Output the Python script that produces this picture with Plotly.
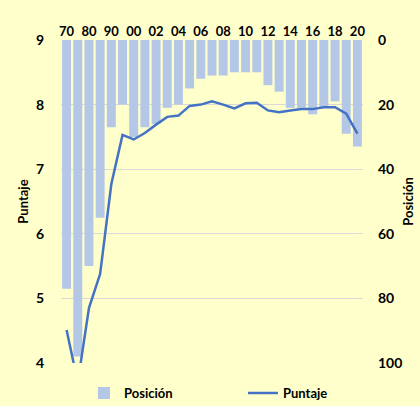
import plotly.graph_objects as go

years = ["70", "75", "80", "85", "90", "95", "00", "01", "02", "03", "04", "05", "06",
         "07", "08", "09", "10", "11", "12", "13", "14", "15", "16", "17", "18", "19", "20"]
posicion = [77, 98, 70, 55, 27, 20, 30, 27, 26, 21, 20, 15, 12,
            11, 11, 10, 10, 10, 14, 16, 21, 21, 23, 21, 19, 29, 33]
puntaje = [4.51, 3.7, 4.85, 5.38, 6.77, 7.53, 7.46, 7.56, 7.69, 7.81, 7.83, 7.98, 8.00,
           8.05, 8.00, 7.94, 8.02, 8.03, 7.91, 7.88, 7.91, 7.93, 7.93, 7.96, 7.96, 7.86, 7.55]
tick_years = years[::2]

FONT = "Lato"
BG = "#FFFFCC"

fig = go.Figure()
fig.add_trace(go.Bar(x=years, y=posicion, name="Posición", marker_color="#B4C7E7",
                     marker_line_width=0, yaxis="y"))
fig.add_trace(go.Scatter(x=years, y=puntaje, name="Puntaje", mode="lines",
                         line=dict(color="#4472C4", width=2.5), yaxis="y2"))

fig.update_layout(
    width=420, height=406,
    margin=dict(l=61, r=57, t=40, b=43, autoexpand=False),
    paper_bgcolor=BG, plot_bgcolor=BG,
    font=dict(family=FONT, size=14, color="#000000"),
    bargap=0.2,
    showlegend=True,
    legend=dict(orientation="h", x=1.129, xanchor="right", y=-0.093, yanchor="middle",
                font=dict(size=13, family=FONT, weight="bold"), entrywidth=114,
                bgcolor="rgba(0,0,0,0)"),
    xaxis=dict(type="category", side="top", tickvals=tick_years, ticktext=tick_years,
               showgrid=False, zeroline=False, showline=False, ticks="",
               automargin=False,
               tickfont=dict(size=13, family=FONT, weight="bold"), tickangle=0),
    yaxis=dict(side="right", range=[100, 0], tickvals=[0, 20, 40, 60, 80, 100],
               showgrid=True, gridcolor="#D9D9D9", gridwidth=1, zeroline=False,
               automargin=False,
               tickfont=dict(size=14, family=FONT, weight="bold"), ticklabelstandoff=14,
               title=dict(text="Posición", font=dict(size=13, family=FONT, weight="bold"),
                          standoff=2)),
    yaxis2=dict(overlaying="y", side="left", range=[4, 9], tickvals=[4, 5, 6, 7, 8, 9],
                showgrid=False, zeroline=False, automargin=False,
                tickfont=dict(size=14, family=FONT, weight="bold"), ticklabelstandoff=16,
                title=dict(text="Puntaje", font=dict(size=13, family=FONT, weight="bold"),
                           standoff=4)),
)

fig.write_html("out.html", config={"displayModeBar": False},
               post_script="document.body.style.margin='0';document.body.style.background='#FFFFCC';")
